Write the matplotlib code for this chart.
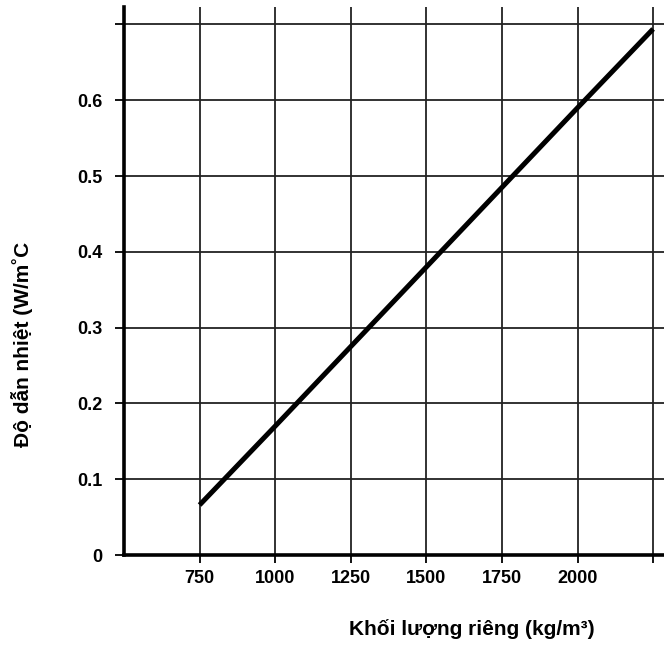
import matplotlib
matplotlib.use("Agg")
import matplotlib.pyplot as plt

density = [750, 1000, 1250, 1500, 1750, 2000, 2250]
conductivity = [0.066, 0.170, 0.275, 0.380, 0.485, 0.590, 0.694]

x_ticks = [750, 1000, 1250, 1500, 1750, 2000, 2250]
x_labels = ["750", "1000", "1250", "1500", "1750", "2000", ""]
y_ticks = [0, 0.1, 0.2, 0.3, 0.4, 0.5, 0.6, 0.7]
y_labels = ["0", "0.1", "0.2", "0.3", "0.4", "0.5", "0.6", ""]

tick_font = dict(family=["Liberation Sans Narrow", "Liberation Sans", "DejaVu Sans"],
                 weight="bold", size=13, stretch="condensed")
label_font = ["Liberation Sans", "DejaVu Sans"]

fig = plt.figure(figsize=(6.64, 6.45), dpi=100)
ax = fig.add_axes([124 / 664, 90 / 645, 540 / 664, 548 / 645])

ax.plot(density, conductivity, color="black", linewidth=3.6, solid_capstyle="butt", zorder=3)

ax.set_xlim(500, 2286)
ax.set_ylim(0, 0.723)
ax.set_xticks(x_ticks)
ax.set_xticklabels(x_labels, fontdict=tick_font)
ax.set_yticks(y_ticks)
ax.set_yticklabels(y_labels, fontdict=tick_font)
ax.tick_params(axis="x", direction="out", length=6, width=1.3, pad=5, color="black")
ax.tick_params(axis="y", direction="out", length=6.5, width=1.3, pad=9, color="black")

ax.grid(True, color="#222222", linewidth=1.3)
ax.set_axisbelow(True)

for side in ["top", "right"]:
    ax.spines[side].set_visible(False)
for side in ["left", "bottom"]:
    ax.spines[side].set_linewidth(2.6)
    ax.spines[side].set_color("black")

fig.text(472 / 664, 1 - 629 / 645, "Khối lượng riêng (kg/m³)", ha="center", va="center",
         fontsize=15, fontweight="bold", family=label_font)
fig.text(22 / 664, 1 - 344 / 645, "Độ dẫn nhiệt (W/m˚C", ha="center", va="center", rotation=90,
         fontsize=15, fontweight="bold", family=label_font)

fig.savefig("out.png", dpi=100)
